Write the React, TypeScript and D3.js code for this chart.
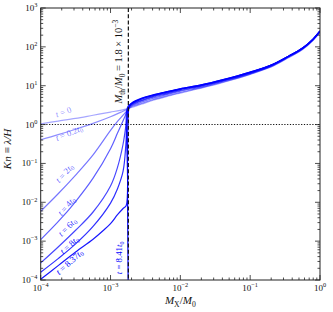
import React, { useEffect, useRef } from 'react';
import * as d3 from 'd3';

// all values are log10: [log10(Mx/M0), log10(Kn)]
const T_0 = [[-4, 0.02], [-3.75, 0.09], [-3.5, 0.16], [-3.25, 0.24], [-3.0, 0.32], [-2.8, 0.39], [-2.7, 0.44], [-2.55, 0.53], [-2.4, 0.62], [-2.2, 0.72], [-2.0, 0.81], [-1.7, 0.94], [-1.4, 1.08], [-1.0, 1.29], [-0.7, 1.48], [-0.45, 1.72], [-0.25, 1.93], [-0.1, 2.17], [0, 2.38]];
const T_02 = [[-4, -0.39], [-3.75, -0.26], [-3.5, -0.12], [-3.25, 0.03], [-3.0, 0.2], [-2.85, 0.32], [-2.745, 0.41], [-2.7, 0.46], [-2.55, 0.55], [-2.4, 0.64], [-2.2, 0.74], [-2.0, 0.83], [-1.7, 0.95], [-1.4, 1.09], [-1.0, 1.3], [-0.7, 1.49], [-0.45, 1.73], [-0.25, 1.94], [-0.1, 2.17], [0, 2.38]];
const T_2 = [[-4, -2.23], [-3.75, -1.78], [-3.5, -1.3], [-3.25, -0.78], [-3.0, -0.15], [-2.9, 0.08], [-2.8, 0.28], [-2.745, 0.4], [-2.7, 0.48], [-2.55, 0.58], [-2.4, 0.67], [-2.2, 0.77], [-2.0, 0.86], [-1.7, 0.97], [-1.4, 1.11], [-1.0, 1.31], [-0.7, 1.5], [-0.45, 1.74], [-0.25, 1.95], [-0.1, 2.18], [0, 2.39]];
const T_4 = [[-4, -2.96], [-3.75, -2.5], [-3.5, -1.98], [-3.25, -1.38], [-3.0, -0.62], [-2.9, -0.22], [-2.8, 0.18], [-2.745, 0.42], [-2.7, 0.5], [-2.55, 0.61], [-2.4, 0.7], [-2.2, 0.79], [-2.0, 0.88], [-1.7, 0.99], [-1.4, 1.12], [-1.0, 1.32], [-0.7, 1.51], [-0.45, 1.75], [-0.25, 1.96], [-0.1, 2.19], [0, 2.4]];
const T_6 = [[-4, -3.56], [-3.75, -3.15], [-3.5, -2.72], [-3.25, -2.25], [-3.0, -1.58], [-2.9, -1.1], [-2.82, -0.5], [-2.77, 0.1], [-2.745, 0.42], [-2.7, 0.52], [-2.55, 0.63], [-2.4, 0.72], [-2.2, 0.81], [-2.0, 0.9], [-1.7, 1.0], [-1.4, 1.13], [-1.0, 1.33], [-0.7, 1.52], [-0.45, 1.76], [-0.25, 1.96], [-0.1, 2.19], [0, 2.4]];
const T_8 = [[-4, -3.8], [-3.75, -3.45], [-3.5, -3.07], [-3.25, -2.62], [-3.0, -2.02], [-2.9, -1.65], [-2.82, -1.2], [-2.78, -0.5], [-2.76, 0.2], [-2.745, 0.44], [-2.7, 0.53], [-2.55, 0.66], [-2.4, 0.74], [-2.2, 0.83], [-2.0, 0.91], [-1.7, 1.01], [-1.4, 1.14], [-1.0, 1.34], [-0.7, 1.53], [-0.45, 1.76], [-0.25, 1.97], [-0.1, 2.2], [0, 2.41]];
const T_837 = [[-4, -3.98], [-3.75, -3.63], [-3.5, -3.28], [-3.25, -2.95], [-3.1, -2.72], [-3.0, -2.55], [-2.9, -2.32], [-2.82, -2.16], [-2.775, -2.08], [-2.772, 0.3], [-2.75, 0.47], [-2.7, 0.54], [-2.55, 0.67], [-2.4, 0.75], [-2.2, 0.84], [-2.0, 0.92], [-1.7, 1.02], [-1.4, 1.15], [-1.0, 1.35], [-0.7, 1.53], [-0.45, 1.76], [-0.25, 1.97], [-0.1, 2.2], [0, 2.41]];
const T_841 = [[-2.745, -4.5], [-2.745, 0.3], [-2.73, 0.48], [-2.7, 0.55], [-2.55, 0.68], [-2.4, 0.76], [-2.2, 0.84], [-2.0, 0.92], [-1.7, 1.02], [-1.4, 1.15], [-1.0, 1.35], [-0.7, 1.53], [-0.45, 1.76], [-0.25, 1.97], [-0.1, 2.2], [0, 2.41]];

const SERIES = [T_0, T_02, T_2, T_4, T_6, T_8, T_837, T_841];
const T_LABELS = ['0', '0.2', '2', '4', '6', '8', '8.37', '8.41'];
// label anchor (log10 M, log10 Kn) and rotation
const LABEL_POS = [[-3.67, 0.3, -20], [-3.59, -0.24, -22], [-3.65, -1.27, -48], [-3.62, -2.12, -48], [-3.61, -2.66, -45], [-3.58, -3.12, -42], [-3.58, -3.56, -42], [-2.86, -3.43, -90]];

const M_TH = 1.8e-3;
const X_DECADES = [-4, -3, -2, -1, 0];
const Y_DECADES = [-4, -3, -2, -1, 0, 1, 2, 3];

const W = 333, H = 312;
const FONT = '"Liberation Serif", "DejaVu Serif", serif';

type Part = { s: string; i?: boolean; sub?: boolean; sup?: boolean };

function mathText(t: any, parts: Part[], fs: number) {
  let off = 0;
  parts.forEach(p => {
    const target = p.sub ? fs * 0.28 : p.sup ? -fs * 0.42 : 0;
    t.append('tspan')
      .attr('dy', target - off)
      .attr('font-style', p.i ? 'italic' : 'normal')
      .attr('font-size', p.sub || p.sup ? fs * 0.7 : fs)
      .text(p.s);
    off = target;
  });
}

const KnChart: React.FC = () => {
  const svgRef = useRef<SVGSVGElement>(null);

  useEffect(() => {
    if (!svgRef.current) return;
    const svg = d3.select(svgRef.current);
    svg.selectAll('*').remove();

    const left = 40.7, right = 320, top = 8, bottom = 280;
    const x = d3.scaleLog().domain([1e-4, 1]).range([left, right]);
    const y = d3.scaleLog().domain([1e-4, 1e3]).range([bottom, top]);
    const alpha = (i: number) => 0.35 + 0.65 * i / (SERIES.length - 1);

    svg.append('rect').attr('width', W).attr('height', H).attr('fill', 'white');

    svg.append('defs').append('clipPath').attr('id', 'plot-clip')
      .append('rect').attr('x', left).attr('y', top).attr('width', right - left).attr('height', bottom - top);

    // Kn = 1
    svg.append('line')
      .attr('x1', left).attr('x2', right).attr('y1', y(1)).attr('y2', y(1))
      .attr('stroke', '#111').attr('stroke-width', 1.1).attr('stroke-dasharray', '1.2,1.6');

    // curves
    const line = d3.line<number[]>()
      .curve(d3.curveCatmullRom.alpha(0.5))
      .x(d => x(Math.pow(10, d[0])))
      .y(d => y(Math.pow(10, d[1])));

    const g = svg.append('g').attr('clip-path', 'url(#plot-clip)');
    SERIES.forEach((s, i) => {
      g.append('path')
        .attr('d', line(s as number[][]))
        .attr('fill', 'none')
        .attr('stroke', '#0000ff')
        .attr('stroke-opacity', alpha(i))
        .attr('stroke-width', 1.2);
    });

    // M_th
    svg.append('line')
      .attr('x1', x(M_TH)).attr('x2', x(M_TH)).attr('y1', top).attr('y2', bottom)
      .attr('stroke', '#111').attr('stroke-width', 1.2).attr('stroke-dasharray', '4,2.2');

    // curve labels
    T_LABELS.forEach((lab, i) => {
      const [lx, ly, rot] = LABEL_POS[i];
      const px = x(Math.pow(10, lx)), py = y(Math.pow(10, ly));
      const t = svg.append('text')
        .attr('transform', `translate(${px},${py}) rotate(${rot})`)
        .attr('text-anchor', 'middle')
        .attr('dominant-baseline', 'middle')
        .attr('fill', '#0000ff')
        .attr('fill-opacity', Math.min(1, alpha(i) + 0.1))
        .attr('font-family', FONT)
        .style('white-space', 'pre');
      const parts: Part[] = [{ s: 't', i: true }, { s: ' = ' + lab }];
      if (lab !== '0') { parts.push({ s: 't', i: true }); parts.push({ s: '0', sub: true }); }
      mathText(t, parts, 8.8);
    });

    // threshold annotation
    const at = svg.append('text')
      .attr('transform', `translate(${x(M_TH) - 6},${y(Math.pow(10, 1.62))}) rotate(-90)`)
      .attr('text-anchor', 'middle')
      .attr('fill', '#111')
      .attr('font-family', FONT)
      .style('white-space', 'pre');
    mathText(at, [
      { s: 'M', i: true }, { s: 'th', sub: true }, { s: '/' }, { s: 'M', i: true }, { s: '0', sub: true },
      { s: ' = 1.8 × 10' }, { s: '−3', sup: true }
    ], 10.5);

    // ticks on all four sides, pointing inward
    const ax = svg.append('g').attr('stroke', '#222').attr('stroke-width', 0.8);
    const xMinor: number[] = [], yMinor: number[] = [];
    X_DECADES.slice(0, -1).forEach(d => { for (let k = 2; k < 10; k++) xMinor.push(k * Math.pow(10, d)); });
    Y_DECADES.slice(0, -1).forEach(d => { for (let k = 2; k < 10; k++) yMinor.push(k * Math.pow(10, d)); });
    const xTick = (v: number, len: number) => {
      ax.append('line').attr('x1', x(v)).attr('x2', x(v)).attr('y1', bottom).attr('y2', bottom - len);
      ax.append('line').attr('x1', x(v)).attr('x2', x(v)).attr('y1', top).attr('y2', top + len);
    };
    const yTick = (v: number, len: number) => {
      ax.append('line').attr('y1', y(v)).attr('y2', y(v)).attr('x1', left).attr('x2', left + len);
      ax.append('line').attr('y1', y(v)).attr('y2', y(v)).attr('x1', right).attr('x2', right - len);
    };
    X_DECADES.forEach(d => xTick(Math.pow(10, d), 5));
    xMinor.forEach(v => xTick(v, 2.5));
    Y_DECADES.forEach(d => yTick(Math.pow(10, d), 5));
    yMinor.forEach(v => yTick(v, 2.5));

    svg.append('rect')
      .attr('x', left).attr('y', top).attr('width', right - left).attr('height', bottom - top)
      .attr('fill', 'none').attr('stroke', '#222').attr('stroke-width', 1);

    // tick labels
    X_DECADES.forEach(d => {
      const t = svg.append('text')
        .attr('x', x(Math.pow(10, d))).attr('y', 291)
        .attr('text-anchor', 'middle').attr('font-family', FONT).attr('fill', '#111');
      mathText(t, [{ s: '10' }, { s: d < 0 ? '−' + -d : String(d), sup: true }], 9);
    });
    Y_DECADES.forEach(d => {
      const t = svg.append('text')
        .attr('x', 37.5).attr('y', y(Math.pow(10, d)) + 3)
        .attr('text-anchor', 'end').attr('font-family', FONT).attr('fill', '#111');
      mathText(t, [{ s: '10' }, { s: d < 0 ? '−' + -d : String(d), sup: true }], 9);
    });

    // axis labels
    const xl = svg.append('text')
      .attr('x', (left + right) / 2).attr('y', 304)
      .attr('text-anchor', 'middle').attr('font-family', FONT).attr('fill', '#111');
    mathText(xl, [{ s: 'M', i: true }, { s: 'X', sub: true }, { s: '/' }, { s: 'M', i: true }, { s: '0', sub: true }], 11);

    const yl = svg.append('text')
      .attr('transform', `translate(11,${(top + bottom) / 2 + 5}) rotate(-90)`)
      .attr('text-anchor', 'middle').attr('font-family', FONT).attr('fill', '#111')
      .style('white-space', 'pre');
    mathText(yl, [{ s: 'Kn', i: true }, { s: ' ≡ ' }, { s: 'λ/H', i: true }], 11);
  }, []);

  return <svg ref={svgRef} width={W} height={H} style={{ position: 'absolute', left: 0, top: 0 }} />;
};

export default function App() {
  return <KnChart />;
}
